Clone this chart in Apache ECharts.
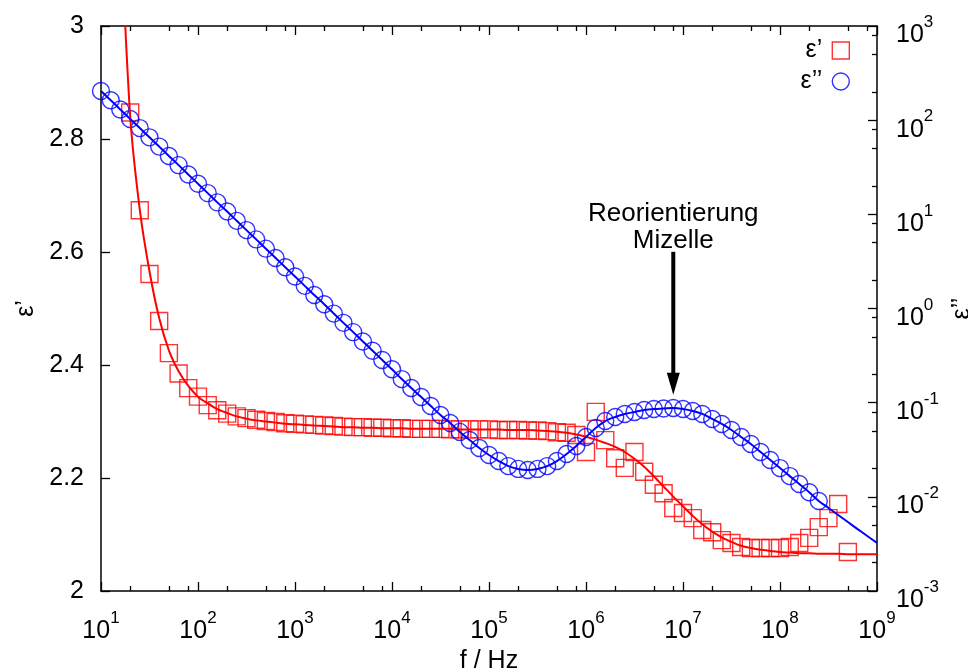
<!DOCTYPE html>
<html><head><meta charset="utf-8">
<script src="https://cdn.jsdelivr.net/npm/echarts@6/dist/echarts.min.js"></script>
<style>html,body{margin:0;padding:0;background:#fff;overflow:hidden}#c{width:968px;height:672px}</style>
</head><body><div id="c"></div>
<script>
// measurement frequency grid (Hz), 10 points per decade
const freq = [
  1e1,1.26e1,1.58e1,2e1,2.51e1,3.16e1,3.98e1,5.01e1,6.31e1,7.94e1,
  1e2,1.26e2,1.58e2,2e2,2.51e2,3.16e2,3.98e2,5.01e2,6.31e2,7.94e2,
  1e3,1.26e3,1.58e3,2e3,2.51e3,3.16e3,3.98e3,5.01e3,6.31e3,7.94e3,
  1e4,1.26e4,1.58e4,2e4,2.51e4,3.16e4,3.98e4,5.01e4,6.31e4,7.94e4,
  1e5,1.26e5,1.58e5,2e5,2.51e5,3.16e5,3.98e5,5.01e5,6.31e5,7.94e5,
  1e6,1.26e6,1.58e6,2e6,2.51e6,3.16e6,3.98e6,5.01e6,6.31e6,7.94e6,
  1e7,1.26e7,1.58e7,2e7,2.51e7,3.16e7,3.98e7,5.01e7,6.31e7,7.94e7,
  1e8,1.26e8,1.58e8,2e8,2.51e8,3.16e8,3.98e8,5.01e8,6.31e8,7.94e8,
  1e9
];
// epsilon' (squares), null = outside plotted range / not measured
const permValues = [
  null,null,null,2.847,2.674,2.561,2.478,2.421,2.385,2.359,
  2.344,2.329,2.320,2.314,2.309,2.306,2.303,2.301,2.299,2.297,
  2.296,2.295,2.294,2.293,2.292,2.291,2.290,2.290,2.289,2.289,
  2.288,2.288,2.287,2.287,2.287,2.287,2.286,2.286,2.286,2.286,
  2.286,2.285,2.285,2.285,2.284,2.284,2.283,2.281,2.280,2.276,
  2.246,2.317,2.267,2.235,2.218,2.246,2.211,2.188,2.173,2.147,
  2.138,2.129,2.108,2.104,2.090,2.085,2.078,2.076,2.076,2.076,
  2.076,2.078,2.085,2.094,2.113,2.129,2.154,2.069,null,null,
  null
];
// fit curve for epsilon'
const permFit = [
  null,null,3.20,2.840,2.675,2.566,2.483,2.426,2.389,2.363,
  2.344,2.332,2.322,2.315,2.309,2.305,2.302,2.300,2.298,2.296,
  2.295,2.294,2.293,2.292,2.291,2.290,2.290,2.289,2.289,2.288,
  2.288,2.288,2.287,2.287,2.287,2.287,2.287,2.286,2.286,2.286,
  2.286,2.286,2.285,2.285,2.285,2.284,2.283,2.282,2.280,2.277,
  2.273,2.268,2.262,2.255,2.246,2.234,2.220,2.203,2.185,2.167,
  2.150,2.133,2.118,2.105,2.095,2.087,2.080,2.076,2.073,2.071,
  2.069,2.068,2.067,2.067,2.066,2.066,2.066,2.065,2.065,2.065,
  2.065
];
// epsilon'' (circles)
const lossValues = [
  204,163,130,103,82.4,65.7,52.4,41.7,33.3,26.5,
  21.1,16.8,13.4,10.7,8.53,6.80,5.42,4.32,3.44,2.74,
  2.19,1.74,1.39,1.11,0.883,0.704,0.561,0.447,0.356,0.284,
  0.226,0.178,0.143,0.115,0.0922,0.0740,0.0608,0.0489,0.0402,0.0330,
  0.0278,0.0240,0.0212,0.0198,0.0193,0.0198,0.0212,0.0240,0.0285,0.0347,
  0.0432,0.0538,0.0638,0.0705,0.0759,0.0796,0.0836,0.0857,0.0867,0.0878,
  0.0857,0.0816,0.0759,0.0671,0.0594,0.0513,0.0432,0.0364,0.0299,0.0246,
  0.0202,0.0166,0.0137,0.0112,0.00904,null,null,null,null,null,
  null
];
// fit curve for epsilon''
const lossFit = [
  204,163,130,103,82.4,65.7,52.4,41.7,33.3,26.5,
  21.1,16.8,13.4,10.7,8.53,6.80,5.42,4.32,3.44,2.74,
  2.19,1.74,1.39,1.11,0.883,0.704,0.561,0.447,0.356,0.284,
  0.226,0.178,0.143,0.115,0.0922,0.0740,0.0608,0.0489,0.0402,0.0330,
  0.0278,0.0240,0.0212,0.0198,0.0193,0.0198,0.0212,0.0240,0.0285,0.0347,
  0.0432,0.0538,0.0638,0.0705,0.0759,0.0796,0.0836,0.0857,0.0867,0.0878,
  0.0857,0.0816,0.0759,0.0671,0.0594,0.0513,0.0432,0.0364,0.0299,0.0246,
  0.0202,0.0166,0.0137,0.0112,0.00904,0.00762,0.00641,0.0054,0.00454,0.00384,
  0.00324
];

const xMajorTicks = [1e1,1e2,1e3,1e4,1e5,1e6,1e7,1e8,1e9];
const xMinorTicks = [2e1,5e1,8e1,2e2,5e2,8e2,2e3,5e3,8e3,2e4,5e4,8e4,2e5,5e5,8e5,2e6,5e6,8e6,2e7,5e7,8e7,2e8,5e8,8e8];
const y2MajorTicks = [1e-3,1e-2,1e-1,1e0,1e1,1e2,1e3];
const y2MinorTicks = [2e-3,5e-3,8e-3,2e-2,5e-2,8e-2,2e-1,5e-1,8e-1,2,5,8,20,50,80,200,500,800];

const permName = 'ε’';
const lossName = 'ε’’';
const xTitle = 'f / Hz';
const annotationLines = ['Reorientierung', 'Mizelle'];
const arrowFreq = 7.94e6, arrowTop = 4.0, arrowTip = 0.121;

const FONT = 'Liberation Sans, Arial, Helvetica, sans-serif';
const pairs = (xs, ys) => xs.map((x, i) => [x, ys[i]]).filter(p => p[1] != null);

const powRich = {
  b: {fontSize: 25, fontFamily: FONT, color: '#000', lineHeight: 34, verticalAlign: 'bottom'},
  s: {fontSize: 17, fontFamily: FONT, color: '#000', lineHeight: 17, verticalAlign: 'top'}
};
const powFmt = v => '{b|10}{s|' + Math.round(Math.log10(v)) + '}';
const axisLineStyle = {color: '#000', width: 1.5};

const chart = echarts.init(document.getElementById('c'), null, {renderer: 'canvas'});
chart.setOption({
  animation: false,
  backgroundColor: '#fff',
  grid: {left: 101, right: 91, top: 26, bottom: 81, containLabel: false, outerBoundsMode: 'none'},
  legend: {
    orient: 'vertical', right: 118, top: 38, padding: 0, align: 'right',
    itemWidth: 17, itemHeight: 17, itemGap: 6, selectedMode: false,
    textStyle: {fontSize: 25, fontFamily: FONT, color: '#000', lineHeight: 20, padding: [0,5,0,0]},
    data: [
      {name: permName, icon: 'rect', itemStyle: {color: 'rgba(0,0,0,0)', borderColor: '#ff0000', borderWidth: 1.4}},
      {name: lossName, icon: 'circle', itemStyle: {color: 'rgba(0,0,0,0)', borderColor: '#0000ff', borderWidth: 1.4}}
    ]
  },
  xAxis: [
    {type: 'log', logBase: 10, min: 1e1, max: 1e9, splitNumber: 8, position: 'bottom',
     axisLine: {lineStyle: axisLineStyle}, splitLine: {show: false},
     axisTick: {inside: true, length: 9, lineStyle: {color: '#000', width: 1.3}, customValues: xMajorTicks},
     axisLabel: {margin: 19, formatter: powFmt, rich: powRich, customValues: xMajorTicks},
     name: xTitle, nameLocation: 'middle', nameGap: 43,
     nameTextStyle: {fontSize: 25, fontFamily: FONT, color: '#000'}},
    {type: 'log', logBase: 10, min: 1e1, max: 1e9, splitNumber: 8, position: 'top',
     axisLine: {lineStyle: axisLineStyle}, splitLine: {show: false},
     axisTick: {inside: true, length: 9, lineStyle: {color: '#000', width: 1.3}, customValues: xMajorTicks},
     axisLabel: {show: false}},
    {type: 'log', logBase: 10, min: 1e1, max: 1e9, position: 'bottom',
     axisLine: {show: false}, splitLine: {show: false},
     axisTick: {inside: true, length: 5, lineStyle: {color: '#000', width: 1.3}, customValues: xMinorTicks},
     axisLabel: {show: false}},
    {type: 'log', logBase: 10, min: 1e1, max: 1e9, position: 'top',
     axisLine: {show: false}, splitLine: {show: false},
     axisTick: {inside: true, length: 5, lineStyle: {color: '#000', width: 1.3}, customValues: xMinorTicks},
     axisLabel: {show: false}}
  ],
  yAxis: [
    {type: 'value', min: 2, max: 3, interval: 0.2, position: 'left',
     axisLine: {show: true, lineStyle: axisLineStyle}, splitLine: {show: false},
     axisTick: {show: true, inside: true, length: 9, lineStyle: {color: '#000', width: 1.3}},
     axisLabel: {margin: 17, fontSize: 25, fontFamily: FONT, color: '#000'},
     name: permName, nameLocation: 'middle', nameGap: 60, nameRotate: 90,
     nameTextStyle: {fontSize: 25, fontFamily: FONT, color: '#000'}},
    {type: 'log', logBase: 10, min: 1e-3, max: 1e3, splitNumber: 6, position: 'right',
     axisLine: {show: true, lineStyle: axisLineStyle}, splitLine: {show: false},
     axisTick: {show: true, inside: true, length: 9, lineStyle: {color: '#000', width: 1.3}, customValues: y2MajorTicks},
     axisLabel: {margin: 19, formatter: powFmt, rich: powRich, customValues: y2MajorTicks, padding: [10,0,0,0]},
     name: lossName, nameLocation: 'middle', nameGap: 66, nameRotate: 90,
     nameTextStyle: {fontSize: 25, fontFamily: FONT, color: '#000'}},
    {type: 'log', logBase: 10, min: 1e-3, max: 1e3, position: 'right',
     axisLine: {show: false}, splitLine: {show: false},
     axisTick: {show: true, inside: true, length: 5, lineStyle: {color: '#000', width: 1.3}, customValues: y2MinorTicks},
     axisLabel: {show: false}}
  ],
  series: [
    {name: 'fit1', type: 'line', xAxisIndex: 0, yAxisIndex: 0, data: pairs(freq, permFit),
     smooth: 0.3, showSymbol: false, symbol: 'none', clip: true,
     lineStyle: {color: '#ff0000', width: 2}, z: 3, silent: true},
    {name: 'fit2', type: 'line', xAxisIndex: 0, yAxisIndex: 1, data: pairs(freq, lossFit),
     smooth: 0.3, showSymbol: false, symbol: 'none', clip: true,
     lineStyle: {color: '#0000ff', width: 2}, z: 3, silent: true},
    {name: permName, type: 'scatter', xAxisIndex: 0, yAxisIndex: 0, data: pairs(freq, permValues),
     symbol: 'rect', symbolSize: 17, clip: false,
     itemStyle: {color: 'rgba(0,0,0,0)', borderColor: '#ff0000', borderWidth: 1.4}, z: 2},
    {name: lossName, type: 'scatter', xAxisIndex: 0, yAxisIndex: 1, data: pairs(freq, lossValues),
     symbol: 'circle', symbolSize: 17, clip: false,
     itemStyle: {color: 'rgba(0,0,0,0)', borderColor: '#0000ff', borderWidth: 1.4}, z: 2}
  ]
});

// annotation arrow + text, positioned in data coordinates
const pTop = chart.convertToPixel({xAxisIndex: 0, yAxisIndex: 1}, [arrowFreq, arrowTop]);
const pTip = chart.convertToPixel({xAxisIndex: 0, yAxisIndex: 1}, [arrowFreq, arrowTip]);
const headLen = 22, headHalf = 6.5;
chart.setOption({
  graphic: [
    {type: 'line', shape: {x1: pTop[0], y1: pTop[1], x2: pTip[0], y2: pTip[1] - headLen + 2},
     style: {stroke: '#000', lineWidth: 4}, z: 10},
    {type: 'polygon', shape: {points: [[pTip[0] - headHalf, pTip[1] - headLen], [pTip[0] + headHalf, pTip[1] - headLen], [pTip[0], pTip[1]]]},
     style: {fill: '#000'}, z: 10},
    {type: 'text', x: pTop[0], y: pTop[1] + 3, z: 10,
     style: {text: annotationLines.join('\n'), fontSize: 26, fontFamily: FONT, fill: '#000',
             align: 'center', verticalAlign: 'bottom', lineHeight: 27}}
  ]
});
</script></body></html>
